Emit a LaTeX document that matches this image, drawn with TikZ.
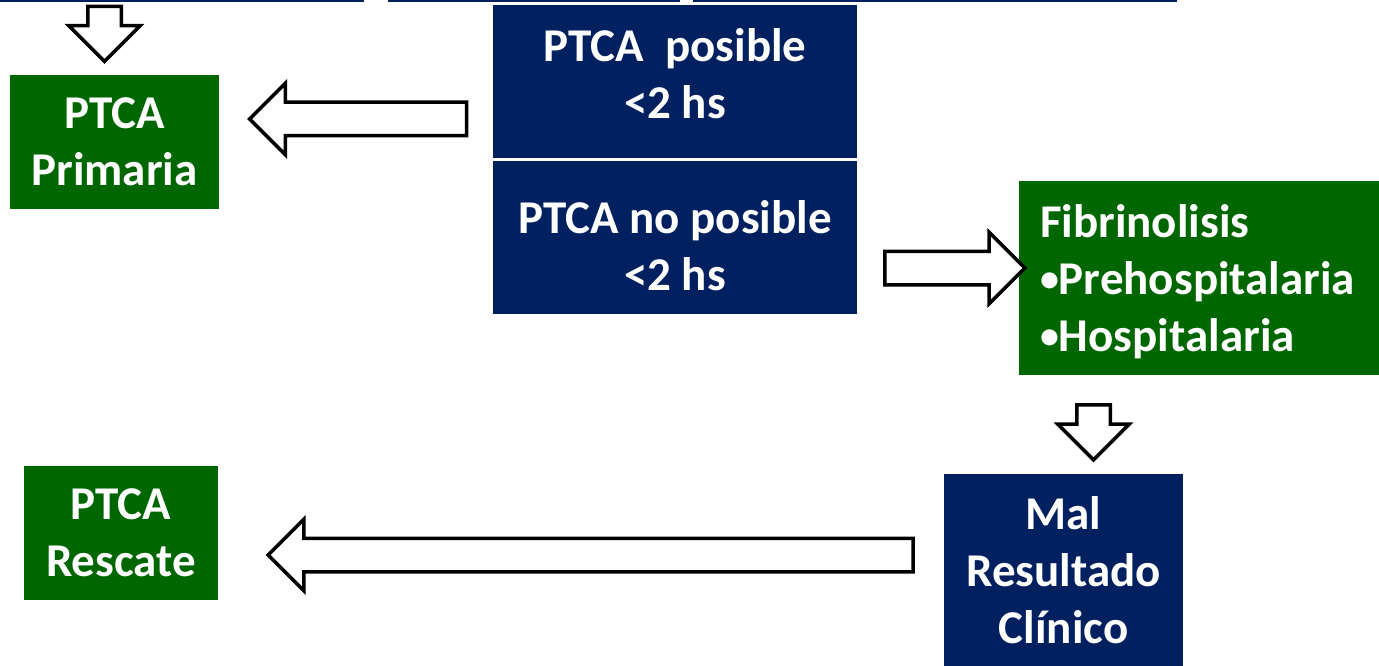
\documentclass[tikz,border=0pt]{standalone}
\usepackage{fontspec}
\setmainfont{Carlito}
\usepackage{tikz}
\usetikzlibrary{shapes.arrows,positioning}
\definecolor{DarkNavy}{HTML}{002060}
\definecolor{DeepGreen}{HTML}{006600}
\newcommand{\smallbullet}{\raisebox{3pt}{\fontsize{38}{38}\selectfont\textbullet}}

\begin{document}
\begin{tikzpicture}[x=1pt,y=-1pt,
  boxtext/.style={text=white,font=\bfseries\fontsize{47}{57}\selectfont,align=center},
  navybox/.style={fill=DarkNavy,boxtext,inner sep=0pt},
  greenbox/.style={fill=DeepGreen,boxtext,inner sep=0pt},
  blockarr/.style={single arrow,draw,fill=white,line width=3.5pt,inner xsep=0pt,inner ysep=15pt,single arrow head extend=19pt}
]
\useasboundingbox (0,0) rectangle (1379,666);
\fill[white] (0,0) rectangle (1379,666);
% edges of the shapes above the cut
\fill[DarkNavy] (0,0) rectangle (364,2);
\fill[DarkNavy] (388,0) rectangle (680,2);
\fill[DarkNavy] (693,0) rectangle (1177,2);

\node[navybox,minimum width=364pt,minimum height=153pt,
  label={[boxtext,yshift=8pt]center:PTCA\ \ posible\\{<}2 hs}] (posible) at (675,81.5) {};
\node[navybox,minimum width=364pt,minimum height=153pt,
  label={[boxtext,yshift=-8pt]center:PTCA no posible\\{<}2 hs}] (noposible) at (675,237.5) {};
\node[greenbox,minimum width=209pt,minimum height=134pt] (primaria) at (114.5,142) {PTCA\\Primaria};
\node[greenbox,minimum width=194pt,minimum height=134pt] (rescate) at (121,533) {PTCA\\Rescate};
\node[greenbox,align=left,text width=318pt,inner xsep=21pt,minimum height=194pt,
  label={[boxtext,align=left,text width=318pt,yshift=-4pt]center:Fibrinolisis\\\smallbullet Prehospitalaria\\\smallbullet Hospitalaria}] (fibrino) at (1199,278) {};
\node[navybox,minimum width=239pt,minimum height=192pt] (malres) at (1063.5,570) {Mal\\Resultado\\Clínico};

\node[blockarr,rotate=270,minimum height=55pt] (toprimaria) at (104.5,25.5) {};
\node[blockarr,rotate=180,minimum height=217pt] (posleft) at (366.5,119) {};
\node[blockarr,minimum height=140pt] (nopright) at (946.5,268) {};
\node[blockarr,rotate=270,minimum height=55pt] (fibdown) at (1093.5,424) {};
\node[blockarr,rotate=180,minimum height=645pt] (malleft) at (599,555) {};
\end{tikzpicture}
\end{document}
